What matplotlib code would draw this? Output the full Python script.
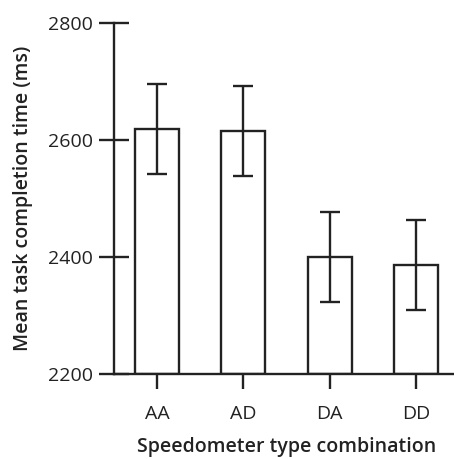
import matplotlib
matplotlib.use("Agg")
import matplotlib.pyplot as plt

# speedometer combinations and mean completion times (ms)
combos = ["AA", "AD", "DA", "DD"]
means = [2619, 2615, 2400, 2387]
errs = [77, 77, 77, 77]

ink = "#222222"
plt.rcParams["font.family"] = ["Open Sans", "DejaVu Sans"]

fig = plt.figure(figsize=(4.54, 4.59), dpi=100)
ax = fig.add_axes([0.251, 0.185, 0.76, 0.765])

xs = range(len(combos))
ax.bar(xs, [m - 2200 for m in means], bottom=2200, width=0.51,
       facecolor="white", edgecolor=ink, linewidth=1.7, zorder=2)
ax.errorbar(xs, means, yerr=errs, fmt="none", ecolor=ink,
            elinewidth=1.7, capsize=7.5, capthick=1.7, zorder=3)

ax.set_xlim(-0.5, 3.5)
ax.set_ylim(2200, 2800)
ax.set_yticks([2200, 2400, 2600, 2800])
ax.set_xticks(list(xs))
ax.set_xticklabels(combos)

for s in ["top", "right"]:
    ax.spines[s].set_visible(False)
for s in ["left", "bottom"]:
    ax.spines[s].set_color(ink)
    ax.spines[s].set_linewidth(1.7)
ax.spines["left"].set_zorder(4)

ax.tick_params(axis="both", direction="inout", length=22, width=1.7,
               color=ink, labelcolor=ink, labelsize=14)
ax.tick_params(axis="y", pad=4)
ax.tick_params(axis="x", pad=11)

ax.set_xlabel("Speedometer type combination", fontsize=14,
              fontweight="semibold", color=ink, labelpad=10)
ax.set_ylabel("Mean task completion time (ms)", fontsize=14,
              fontweight="semibold", color=ink, labelpad=11)

fig.savefig("out.png", dpi=100)
